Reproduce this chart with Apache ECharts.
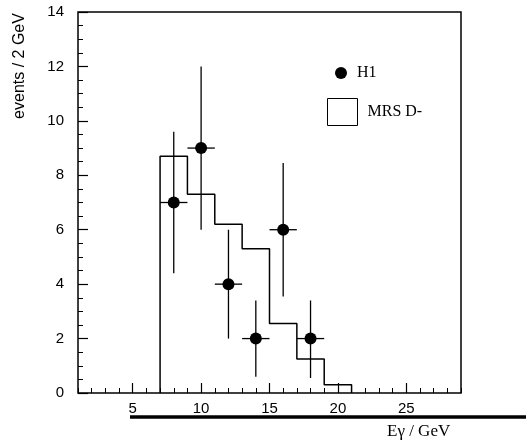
<!DOCTYPE html>
<html lang="en">
<head>
<meta charset="UTF-8">
<title>E gamma spectrum, H1 vs MRS D-</title>
<script src="https://cdn.jsdelivr.net/npm/echarts@6.0.0/dist/echarts.min.js"></script>
<style>
html, body { margin: 0; padding: 0; background: #fff; }
#chart { width: 526px; height: 443px; }
</style>
</head>
<body>
<div id="chart"></div>
<script>
// H1 data points
const h1X = [8, 10, 12, 14, 16, 18];
const h1Y = [7, 9, 4, 2, 6, 2];
const h1Low = [4.4, 6.0, 2.0, 0.6, 3.55, 0.55];
const h1High = [9.6, 12.0, 6.0, 3.4, 8.45, 3.4];
const h1XErr = [1, 1, 1, 1, 1, 1];

// MRS D- histogram (bin edges + contents)
const binEdges = [7, 9, 11, 13, 15, 17, 19, 21];
const mrsValues = [8.7, 7.3, 6.2, 5.3, 2.55, 1.25, 0.3];

const xMajorTicks = [5, 10, 15, 20, 25];

// outline of the histogram built from edges and contents
const histLine = [[binEdges[0], 0]];
mrsValues.forEach((v, i) => {
  histLine.push([binEdges[i], v]);
  histLine.push([binEdges[i + 1], v]);
});
histLine.push([binEdges[binEdges.length - 1], 0]);

const errData = h1X.map((x, i) => [x, h1Y[i], h1Low[i], h1High[i], h1XErr[i]]);

const sans = 'Liberation Sans, Arial, sans-serif';
const serif = 'Liberation Serif, Times New Roman, serif';

const chart = echarts.init(document.getElementById('chart'));

const option = {
  animation: false,
  grid: {
    left: 78, top: 12, right: 65, bottom: 50,
    show: true, borderColor: '#000', borderWidth: 1.5, backgroundColor: 'transparent'
  },
  legend: [{
    data: [{ name: 'H1', icon: 'circle', itemStyle: { color: '#000', opacity: 1 } }],
    left: 330, top: 60,
    itemWidth: 12, itemHeight: 12,
    textStyle: { fontFamily: serif, fontSize: 16, color: '#000', padding: [0, 0, 0, 5] }
  }, {
    data: [{ name: 'MRS D-', icon: 'rect', itemStyle: { color: '#fff', borderColor: '#000', borderWidth: 1 } }],
    left: 322, top: 93,
    itemWidth: 30, itemHeight: 27,
    textStyle: { fontFamily: serif, fontSize: 16, color: '#000', padding: [0, 0, 0, 5] }
  }],
  xAxis: [{
    type: 'value',
    min: 1, max: 29,
    axisLine: { show: false },
    splitLine: { show: false },
    axisTick: { show: true, inside: true, length: 10, customValues: xMajorTicks, lineStyle: { color: '#000', width: 1.2 } },
    axisLabel: { customValues: xMajorTicks, margin: 8, fontFamily: sans, fontSize: 15, color: '#000' }
  }, {
    type: 'value',
    min: 1, max: 29, interval: 1,
    position: 'bottom',
    axisLine: { show: false },
    splitLine: { show: false },
    axisTick: { show: true, inside: true, length: 5, lineStyle: { color: '#000', width: 1 } },
    axisLabel: { show: false }
  }],
  yAxis: {
    type: 'value',
    min: 0, max: 14, interval: 2,
    axisLine: { show: false },
    splitLine: { show: false },
    axisTick: { show: true, inside: true, length: 10, lineStyle: { color: '#000', width: 1.2 } },
    minorTick: { show: true, splitNumber: 4, length: 5, lineStyle: { color: '#000', width: 1 } },
    axisLabel: { margin: 14, fontFamily: sans, fontSize: 15, color: '#000' }
  },
  graphic: [{
    type: 'text',
    x: 20, y: 66,
    rotation: Math.PI / 2,
    style: { text: 'events / 2 GeV', font: '16px ' + sans, fill: '#000', align: 'center', verticalAlign: 'middle' }
  }, {
    type: 'text',
    x: 387, y: 432,
    style: { text: 'Eγ / GeV', font: '17px ' + serif, fill: '#000', align: 'left', verticalAlign: 'middle' }
  }, {
    type: 'line',
    shape: { x1: 130, y1: 417, x2: 526, y2: 417 },
    style: { stroke: '#000', lineWidth: 3.5 }
  }],
  series: [{
    name: 'MRS D-',
    type: 'line',
    data: histLine,
    symbol: 'none',
    lineStyle: { color: '#000', width: 1.5 },
    itemStyle: { color: '#000' },
    z: 2
  }, {
    name: 'H1-err',
    type: 'custom',
    data: errData,
    renderItem: function (params, api) {
      const x = api.value(0), y = api.value(1);
      const lo = api.value(2), hi = api.value(3), dx = api.value(4);
      const top = api.coord([x, hi]);
      const bot = api.coord([x, lo]);
      const left = api.coord([x - dx, y]);
      const right = api.coord([x + dx, y]);
      const st = { stroke: '#000', lineWidth: 1.3 };
      return {
        type: 'group',
        children: [
          { type: 'line', shape: { x1: top[0], y1: top[1], x2: bot[0], y2: bot[1] }, style: st },
          { type: 'line', shape: { x1: left[0], y1: left[1], x2: right[0], y2: right[1] }, style: st }
        ]
      };
    },
    z: 3
  }, {
    name: 'H1',
    type: 'scatter',
    data: h1X.map((x, i) => [x, h1Y[i]]),
    symbol: 'circle',
    symbolSize: 12,
    itemStyle: { color: '#000', opacity: 1 },
    z: 4
  }]
};

chart.setOption(option);
</script>
</body>
</html>
